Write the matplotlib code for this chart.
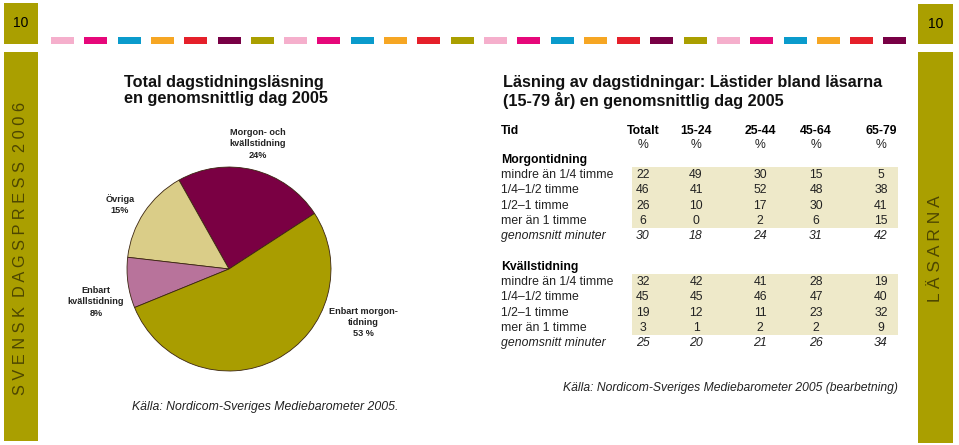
import matplotlib
matplotlib.use("Agg")
import matplotlib.pyplot as plt
from matplotlib.patches import Rectangle

plt.rcParams['font.family'] = ['Liberation Sans', 'DejaVu Sans']

# ---------------- data ----------------
page_number = "10"
left_strip_text = "SVENSK DAGSPRESS 2006"
right_strip_text = "LÄSARNA"

pie_title = "Total dagstidningsläsning\nen genomsnittlig dag 2005"
pie_labels = ["Morgon- och\nkvällstidning\n24%", "Övriga\n15%",
              "Enbart\nkvällstidning\n8%", "Enbart morgon-\ntidning\n53 %"]
pie_values = [24, 15, 8, 53]
pie_colors = ["#7a0043", "#dacd88", "#b8739b", "#a99d00"]
pie_source = "Källa: Nordicom-Sveriges Mediebarometer 2005."

table_title = "Läsning av dagstidningar: Lästider bland läsarna\n(15-79 år) en genomsnittlig dag 2005"
columns = ["Totalt", "15-24", "25-44", "45-64", "65-79"]
row_labels = ["mindre än 1/4 timme", "1/4–1/2 timme", "1/2–1 timme", "mer än 1 timme"]
avg_label = "genomsnitt minuter"
group_names = ["Morgontidning", "Kvällstidning"]
morgon = [[22, 49, 30, 15, 5],
          [46, 41, 52, 48, 38],
          [26, 10, 17, 30, 41],
          [6, 0, 2, 6, 15]]
morgon_avg = [30, 18, 24, 31, 42]
kvall = [[32, 42, 41, 28, 19],
         [45, 45, 46, 47, 40],
         [19, 12, 11, 23, 32],
         [3, 1, 2, 2, 9]]
kvall_avg = [25, 20, 21, 26, 34]
table_source = "Källa: Nordicom-Sveriges Mediebarometer 2005 (bearbetning)"

bar_colors = ["#f5afcc", "#e6077a", "#0a9bcc", "#f6a623", "#e5202a", "#780045", "#aa9f00",
              "#f5afcc", "#e6077a", "#0a9bcc", "#f6a623", "#e5202a", "#aa9f00",
              "#f5afcc", "#e6077a", "#0a9bcc", "#f6a623", "#e5202a", "#780045", "#aa9f00",
              "#f5afcc", "#e6077a", "#0a9bcc", "#f6a623", "#e5202a", "#780045"]

OLIVE = "#aa9f00"
STRIP_TXT = "#4d4600"
SHADE = "#eee9c9"

# ---------------- figure ----------------
W, H = 959, 445
fig = plt.figure(figsize=(W / 100, H / 100), dpi=100)
fig.patch.set_facecolor("white")

ax = fig.add_axes([0, 0, 1, 1])
ax.set_xlim(0, W)
ax.set_ylim(H, 0)
ax.axis("off")
ax.patch.set_alpha(0)

# page boxes and strips
ax.add_patch(Rectangle((4, 3), 34, 41, color=OLIVE, lw=0))
ax.add_patch(Rectangle((918, 4), 35, 40, color=OLIVE, lw=0))
ax.add_patch(Rectangle((4, 52), 34, 389, color=OLIVE, lw=0))
ax.add_patch(Rectangle((918, 52), 35, 391, color=OLIVE, lw=0))
ax.text(21, 23, page_number, ha="center", va="center", fontsize=10, color="black")
ax.text(935.5, 24, page_number, ha="center", va="center", fontsize=10, color="black")

# colour bar row
for i, c in enumerate(bar_colors):
    ax.add_patch(Rectangle((51 + i * 33.3, 37), 23, 7, color=c, lw=0))

# strip texts (letter spaced)
def spaced(s):
    return "  ".join(" ".join(w) for w in s.split(" "))

ax.text(21, 248, spaced(left_strip_text), rotation=90, ha="center", va="center",
        fontsize=11.8, color=STRIP_TXT, fontweight="light")
ax.text(935.5, 249, spaced(right_strip_text), rotation=90, ha="center", va="center",
        fontsize=12.5, color=STRIP_TXT, fontweight="light")

# ---------------- pie ----------------
cx, cy, r = 229, 269, 103
pax = fig.add_axes([(cx - r) / W, (H - cy - r) / H, 2 * r / W, 2 * r / H])
pax.pie(pie_values, colors=pie_colors, startangle=33, counterclock=True,
        wedgeprops=dict(edgecolor="#3b2510", linewidth=0.6))
pax.set_xlim(-1.01, 1.01)
pax.set_ylim(-1.01, 1.01)
pax.axis("off")

ax.text(124, 90.5, pie_title, ha="left", va="center", fontsize=11.7,
        fontweight="bold", linespacing=1.0, color="#111111")

label_pos = [(258, 144), (120, 204.5), (96, 302), (363, 322.5)]
for lab, (x, y) in zip(pie_labels, label_pos):
    ax.text(x, y, lab, ha="center", va="center", fontsize=6.6, fontweight="bold",
            linespacing=1.35, color="#222222")

ax.text(132, 407, pie_source, ha="left", va="center", fontsize=8.8,
        style="italic", color="#222222")

# ---------------- table ----------------
ax.text(503, 92, table_title, ha="left", va="center", fontsize=11.7,
        fontweight="bold", linespacing=1.2, color="#111111")

col_x = [643, 696, 760, 816, 881]
lab_x = 501
fs = 8.8
ax.text(lab_x, 131, "Tid", ha="left", va="center", fontsize=fs, fontweight="bold")
for x, c in zip(col_x, columns):
    ax.text(x, 131, c, ha="center", va="center", fontsize=fs, fontweight="bold")
    ax.text(x, 145, "%", ha="center", va="center", fontsize=fs, color="#222222")

groups = [(group_names[0], morgon, morgon_avg, 160),
          (group_names[1], kvall, kvall_avg, 267)]
dy = 15.2
for name, vals, avg, y0 in groups:
    ax.text(lab_x, y0, name, ha="left", va="center", fontsize=fs, fontweight="bold")
    ax.add_patch(Rectangle((632, y0 + 6.5), 266, 4 * dy + 0.5, color=SHADE, lw=0, zorder=0))
    for j, (lab, row) in enumerate(zip(row_labels, vals)):
        y = y0 + (j + 1) * dy
        ax.text(lab_x, y, lab, ha="left", va="center", fontsize=fs, color="#222222")
        for x, v in zip(col_x, row):
            ax.text(x, y, str(v), ha="center", va="center", fontsize=fs, color="#222222")
    y = y0 + 5 * dy
    ax.text(lab_x, y, avg_label, ha="left", va="center", fontsize=fs,
            style="italic", color="#222222")
    for x, v in zip(col_x, avg):
        ax.text(x, y, str(v), ha="center", va="center", fontsize=fs,
                style="italic", color="#222222")

ax.text(563, 388, table_source, ha="left", va="center", fontsize=8.75,
        style="italic", color="#222222")

fig.savefig("out.png", dpi=100, facecolor="white")
